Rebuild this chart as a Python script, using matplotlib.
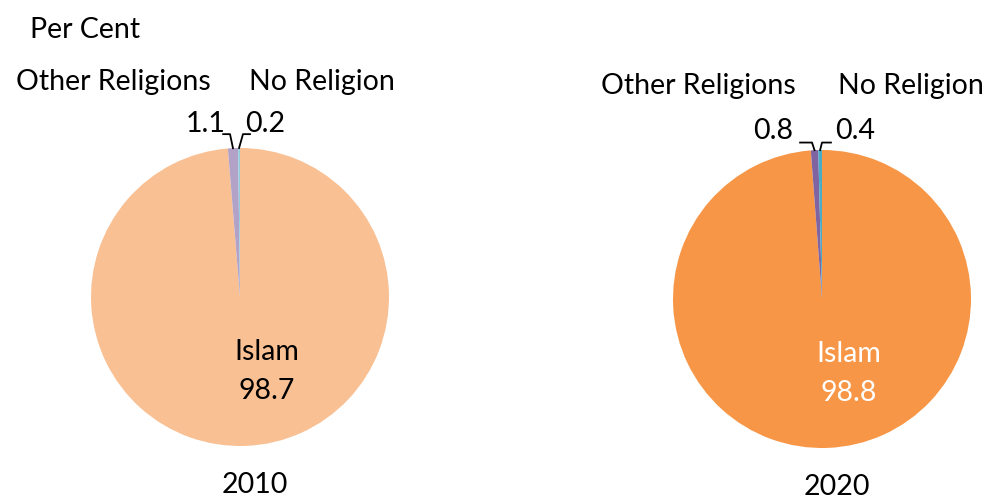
import numpy as np
import matplotlib
matplotlib.use("Agg")
import matplotlib.pyplot as plt

plt.rcParams["font.family"] = ["Lato", "DejaVu Sans"]

# data
categories = ["Islam", "Other Religions", "No Religion"]
years = ["2010", "2020"]
shares_2010 = [98.7, 1.1, 0.2]
shares_2020 = [98.8, 0.8, 0.4]
colors_2010 = ["#F9C093", "#B3A2C7", "#93CDDD"]
colors_2020 = ["#F79646", "#8064A2", "#4BACC6"]

W, H = 989, 498
FS = 20.5

fig = plt.figure(figsize=(W / 100, H / 100), dpi=100)
fig.text(30 / W, 1 - 30 / H, "Per Cent", fontsize=FS, ha="left", va="center")


def draw_pie(cx, cy, r, values, colors, year, islam_color, small_pos, name_pos, hy, hx):
    ax = fig.add_axes([(cx - r) / W, (H - cy - r) / H, 2 * r / W, 2 * r / H])
    ax.pie(values, colors=colors, startangle=90, counterclock=False,
           wedgeprops=dict(linewidth=0))
    ax.set_xlim(-1, 1)
    ax.set_ylim(-1, 1)
    ax.axis("off")

    # main slice label
    ax.text(0.18, -0.37, categories[0], fontsize=FS, ha="center", va="center",
            color=islam_color)
    ax.text(0.18, -0.63, f"{values[0]:.1f}", fontsize=FS, ha="center", va="center",
            color=islam_color)

    # small slice labels with leader lines
    total = sum(values)
    cum = values[0]
    for i in (1, 2):
        mid = (cum + values[i] / 2) / total
        cum += values[i]
        ang = np.deg2rad(90 - 360 * mid)
        px, py = np.cos(ang), np.sin(ang)
        (lx, ly), (nx, ny) = small_pos[i - 1], name_pos[i - 1]
        ax.text(lx, ly, f"{values[i]:.1f}", fontsize=FS, ha="center", va="center",
                clip_on=False)
        ax.text(nx, ny, categories[i], fontsize=FS, ha="center", va="center",
                clip_on=False)
        x0, x1 = hx[i - 1]
        if i == 1:
            xs, ys = [x0, x1, px], [hy, hy, py]
        else:
            xs, ys = [px, x0, x1], [py, hy, hy]
        ax.plot(xs, ys, color="black", lw=1.3, clip_on=False)

    ax.text(0.1, -1.26, year, fontsize=FS, ha="center", va="center", clip_on=False)


draw_pie(240, 297, 149, shares_2010, colors_2010, years[0], "black",
         small_pos=[(-0.23, 1.16), (0.17, 1.16)],
         name_pos=[(-0.85, 1.44), (0.55, 1.44)],
         hy=1.093, hx=[(-0.113, -0.067), (0.02, 0.067)])
draw_pie(822, 299, 149, shares_2020, colors_2020, years[1], "white",
         small_pos=[(-0.33, 1.13), (0.22, 1.13)],
         name_pos=[(-0.83, 1.43), (0.6, 1.43)],
         hy=1.05, hx=[(-0.147, -0.067), (0.0, 0.06)])

fig.savefig("out.png", dpi=100)
